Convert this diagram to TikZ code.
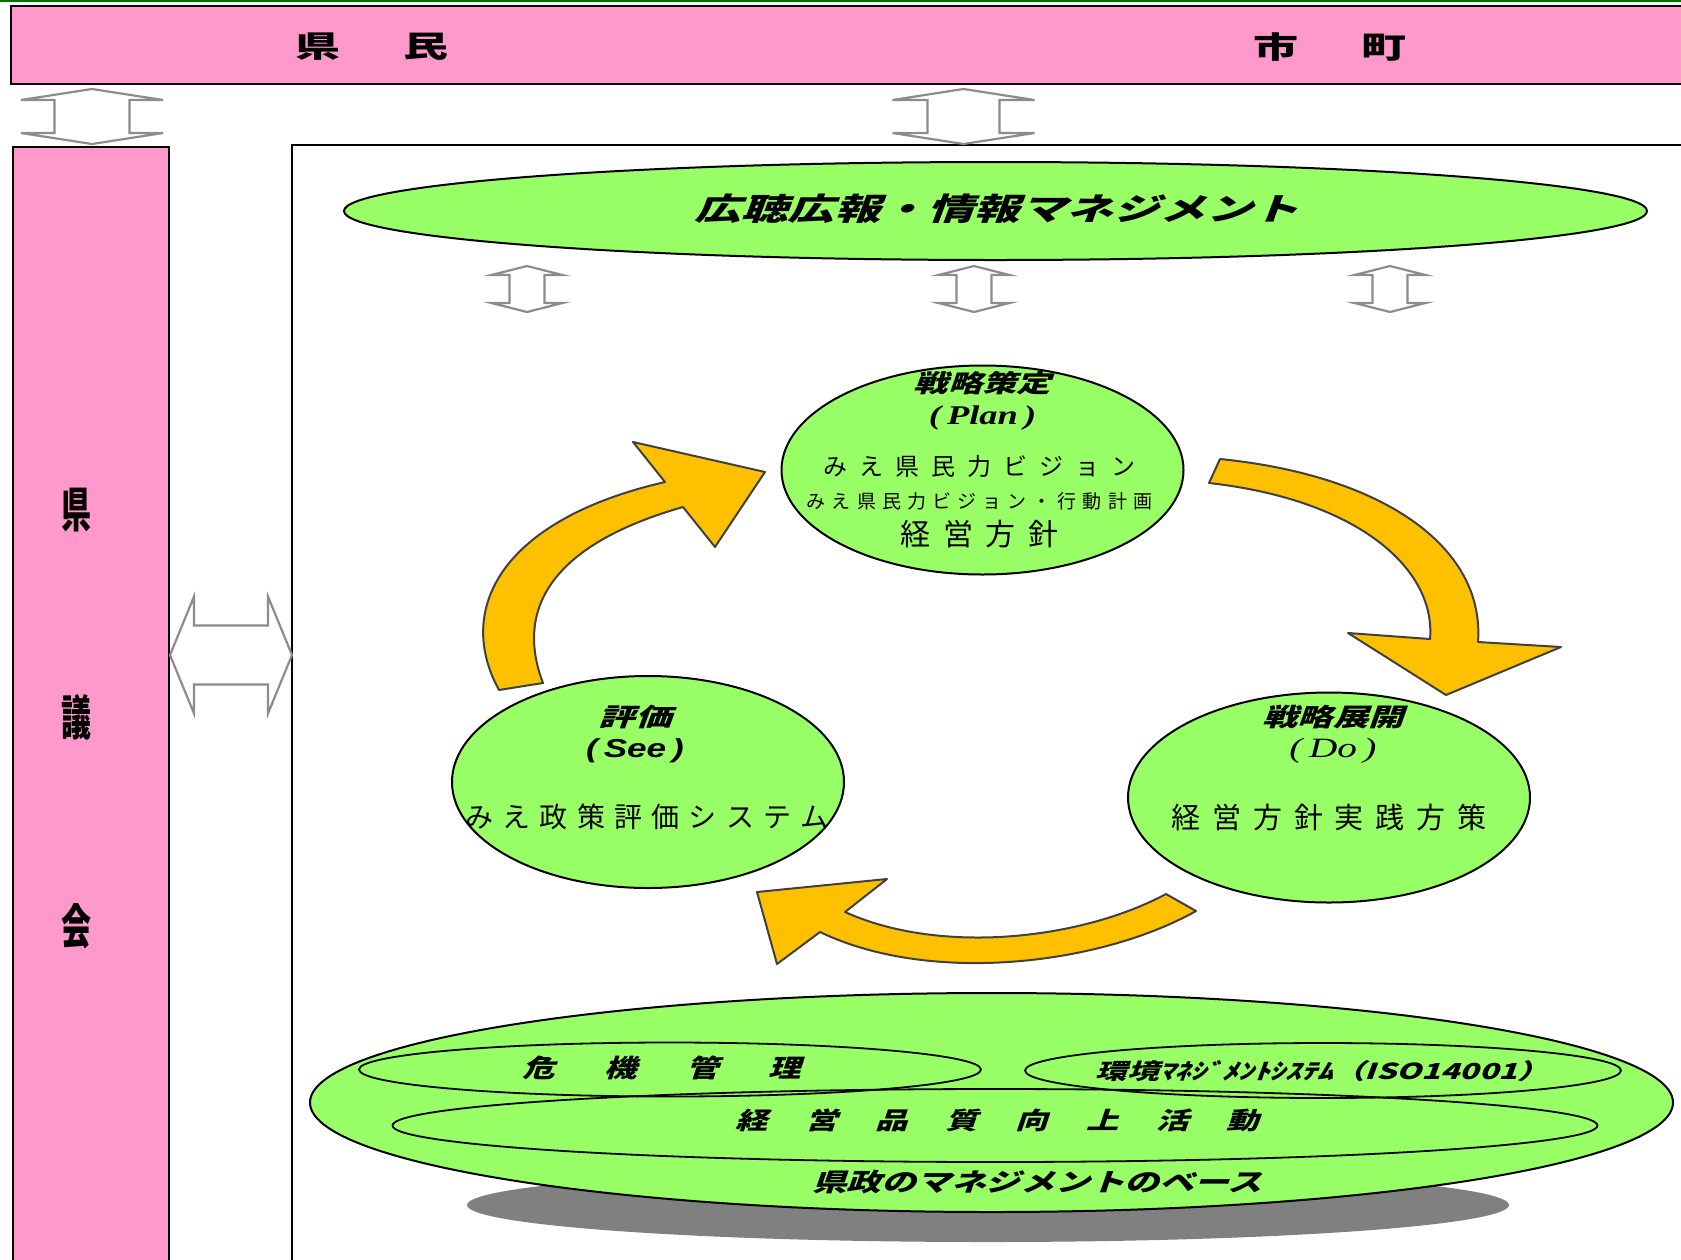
\documentclass[tikz,border=0pt]{standalone}
\usepackage{fontspec}
\usepackage{graphicx}
\usepackage{tikz}
\usetikzlibrary{shapes.geometric}
\usetikzlibrary{calc}
\newfontfamily\jp{Noto Sans CJK JP}
\newfontfamily\jpsl[FakeSlant=0.25]{Noto Sans CJK JP}
\newfontfamily\romit{Liberation Serif}
\newfontfamily\sansit{Liberation Sans}
\newcommand{\fsz}[1]{\fontsize{#1}{#1}\selectfont}
\newcommand{\wide}[2]{\scalebox{#1}[1]{#2}}
\ExplSyntaxOn
\NewDocumentCommand{\spaced}{mm}
  {
    \bool_set_true:N \l_tmpa_bool
    \tl_map_inline:nn {#2}
      {
        \bool_if:NF \l_tmpa_bool { \hspace{#1} }
        \bool_set_false:N \l_tmpa_bool
        ##1
      }
  }
\ExplSyntaxOff
\newcommand{\updown}[6]{\draw[biarrow] (#1,#2) -- (#1+#4,#2+#6) -- (#1+#5,#2+#6) -- (#1+#5,#3-#6) -- (#1+#4,#3-#6)
  -- (#1,#3) -- (#1-#4,#3-#6) -- (#1-#5,#3-#6) -- (#1-#5,#2+#6) -- (#1-#4,#2+#6) -- cycle;}
\definecolor{pinkbar}{HTML}{FF99CC}
\definecolor{leaf}{HTML}{99FF66}
\definecolor{amber}{HTML}{FFC000}
\definecolor{arrowgray}{HTML}{8C8C8C}
\definecolor{shade}{HTML}{808080}
\definecolor{edge}{HTML}{404040}

\begin{document}
\begin{tikzpicture}[x=1pt, y=-1pt, every node/.style={inner sep=0, outer sep=0},
    blob/.style={ellipse, draw, line width=2, fill=leaf},
    ring/.style={ellipse, draw, line width=1.8},
    biarrow/.style={draw=arrowgray, line width=2.2, fill=white},
    band/.style={draw=edge, line width=2, fill=amber, line join=round},
    heading/.style={font={\jp\bfseries\fsz{#1}}},
    boldsl/.style={font={\jpsl\bfseries\fsz{#1}}},
    lite/.style={font={\jp\fsz{#1}}}]
    \useasboundingbox (0,0) rectangle (1681,1259);
    \draw[green!45!black, line width=1.5] (0,0.75) -- (1681,0.75);

    \draw[fill=pinkbar, line width=2.5] (11,6) rectangle (1700,84);
    \node[heading=30] (kenmin) at (372,47) {\wide{1.5}{県\hspace{42pt}民}};
    \node[heading=30] (shicho) at (1329.5,47) {\wide{1.5}{市\hspace{42pt}町}};

    \draw[fill=pinkbar, line width=2.5] (13,147) rectangle (169,1280);
    \node[heading=30] (gi1) at (76.5,510) {\scalebox{1}[1.6]{県}};
    \node[heading=30] (gi2) at (76.5,717) {\scalebox{1}[1.6]{議}};
    \node[heading=30] (gi3) at (76.5,926) {\scalebox{1}[1.6]{会}};

    \draw[line width=2.5] (292,1280) -- (292,145) -- (1700,145);

    \updown{92}{89}{144}{71}{37.5}{11}
    \updown{963.5}{89}{144}{71}{36}{11}
    \draw[biarrow] (170,655) -- (194,596.5) -- (194,625.5) -- (268,625.5) -- (268,596.5) -- (292,655)
        -- (268,713.5) -- (268,684.5) -- (194,684.5) -- (194,713.5) -- cycle;

    \node[blob, minimum width=1303, minimum height=98] (koho) at (995.5,211) {};
    \node[boldsl=31] (kohot) at (997,209) {\wide{1.5}{広聴広報・情報マネジメント}};
    \updown{527}{266}{312}{35.5}{17.5}{9}
    \updown{974}{266}{312}{35.5}{17.5}{9}
    \updown{1390}{266}{312}{35.5}{17.5}{9}

    \node[blob, minimum width=402, minimum height=209] (plan) at (982.5,470) {};
    \node[boldsl=24.5] (plant) at ($(plan)+(0,-87)$) {\wide{1.4}{戦略策定}};
    \node[font={\romit\bfseries\itshape\fsz{27}}] (planl) at ($(plan)+(0,-52)$) {\wide{1.35}{(\,Plan\,)}};
    \node[lite=24] (vision) at ($(plan)+(-3,-4)$) {\spaced{11.9pt}{みえ県民力ビジョン}};
    \node[lite=19] (action) at ($(plan)+(-3,31)$) {\spaced{6.1pt}{みえ県民力ビジョン・行動計画}};
    \node[lite=30] (policy) at ($(plan)+(-3,64)$) {\spaced{12.7pt}{経営方針}};

    \node[blob, minimum width=392, minimum height=212] (see) at (648,782) {};
    \node[boldsl=25] (seet) at ($(see)+(-13,-65)$) {\wide{1.46}{評価}};
    \node[font={\sansit\bfseries\itshape\fsz{26}}] (seel) at ($(see)+(-13,-31)$) {\wide{1.35}{(\,See\,)}};
    \node[lite=28] (seesys) at ($(see)+(-1,35)$) {\spaced{9.3pt}{みえ政策評価システム}};

    \node[blob, minimum width=402, minimum height=210] (do) at (1329,797.5) {};
    \node[boldsl=25] (dot) at ($(do)+(4,-80.5)$) {\wide{1.41}{戦略展開}};
    \node[font={\romit\itshape\fsz{28}}] (dol) at ($(do)+(4,-46.5)$) {\wide{1.4}{(\,Do\,)}};
    \node[lite=29] (practice) at ($(do)+(0,19.5)$) {\spaced{11.9pt}{経営方針実践方策}};

    \draw[band] (499,690) .. controls (455,610) and (500,520) .. (665,482) -- (633,442) -- (765,472) -- (715,547)
        -- (683,507) .. controls (550,545) and (515,610) .. (543,683) -- cycle;
    \draw[band] (1220,459) .. controls (1380,475) and (1485,545) .. (1478,642) -- (1561,647) -- (1446,695) -- (1348,633)
        -- (1430,639) .. controls (1436,570) and (1360,500) .. (1209,483) -- cycle;
    \draw[band] (1166,894) .. controls (1080,940) and (940,955) .. (845,912) -- (887,879) -- (757,892) -- (777,964)
        -- (820,932) .. controls (930,985) and (1100,965) .. (1196,911) -- cycle;

    \node[ellipse, fill=shade, minimum width=1042, minimum height=74] (shadow) at (988,1205) {};
    \node[blob, minimum width=1363, minimum height=219] (base) at (991.5,1102.5) {};
    \node[ring, minimum width=1205, minimum height=73] (quality) at (995,1125.5) {};
    \node[ring, minimum width=622, minimum height=54] (crisis) at (670,1069.5) {};
    \node[ring, minimum width=596, minimum height=55] (ems) at (1323,1070.5) {};
    \node[boldsl=25] (crisist) at (661.5,1068) {\wide{1.3}{\spaced{38pt}{危機管理}}};
    \node[boldsl=22] (emst) at (1322.5,1071) {\wide{1.44}{環境ﾏﾈｼﾞﾒﾝﾄｼｽﾃﾑ（ISO14001）}};
    \node[boldsl=24] (qualityt) at (997,1120) {\wide{1.35}{\spaced{28pt}{経営品質向上活動}}};
    \node[boldsl=25] (baset) at (1037,1182) {\wide{1.39}{県政のマネジメントのベース}};
\end{tikzpicture}
\end{document}
